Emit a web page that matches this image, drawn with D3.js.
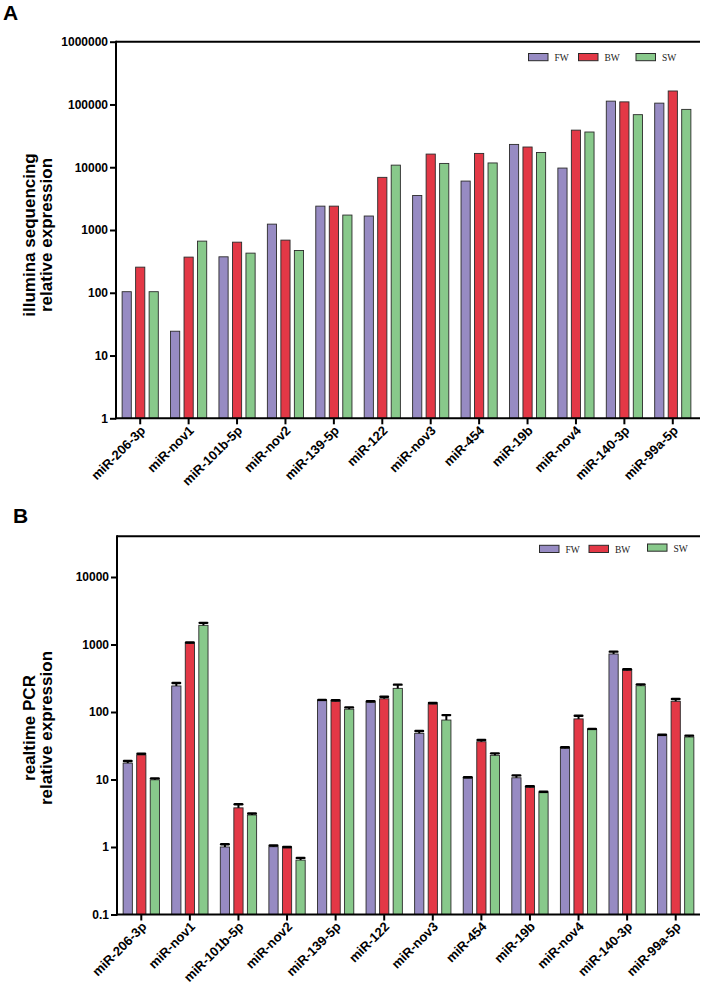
<!DOCTYPE html>
<html><head><meta charset="utf-8">
<script src="https://cdn.jsdelivr.net/npm/d3@7"></script>
<style>body{margin:0;background:#fff}svg{display:block}</style>
</head><body>
<svg id="c" width="710" height="992"></svg>
<script>
const categories = ["miR-206-3p","miR-nov1","miR-101b-5p","miR-nov2","miR-139-5p","miR-122","miR-nov3","miR-454","miR-19b","miR-nov4","miR-140-3p","miR-99a-5p"];
const seriesNames = ["FW","BW","SW"];
const colors = ["#978bc3","#e33846","#88c98b"];

// Panel A: illumina sequencing
const seqFW = [104, 24.4, 374, 1240, 2400, 1670, 3550, 6020, 23100, 9700, 113000, 105000];
const seqBW = [256, 370, 640, 690, 2400, 6900, 16200, 16600, 21000, 39000, 110000, 164000];
const seqSW = [104, 665, 428, 471, 1730, 10800, 11500, 11700, 17200, 36400, 68800, 83500];
const seqTicks = [1, 10, 100, 1000, 10000, 100000, 1000000];

// Panel B: realtime PCR (mean, upper error)
const pcrFW = [17.5, 243, 1.0, 1.01, 147, 139, 48.3, 10.5, 10.6, 29, 723, 44.6];
const pcrBW = [23.1, 1042, 3.8, 0.97, 144, 157, 131, 36.3, 7.66, 79, 414, 144];
const pcrSW = [9.9, 1924, 2.98, 0.64, 110, 224, 76, 22.8, 6.38, 54.7, 245, 42.6];
const pcrFWerr = [1.3, 26, 0.1, 0.04, 4, 5, 4, 0.3, 0.9, 1, 60, 1.5];
const pcrBWerr = [1.0, 30, 0.5, 0.03, 5, 11, 5, 2.3, 0.3, 9, 15, 12];
const pcrSWerr = [0.5, 170, 0.15, 0.05, 7, 30, 14, 1.6, 0.2, 1.5, 12, 2];
const pcrTicks = [0.1, 1, 10, 100, 1000, 10000];

const svg = d3.select("#c");
const font = "'Liberation Sans', Arial, sans-serif";

function panel(opt) {
  const g = svg.append("g");
  const x = d3.scaleBand().domain(categories).range([opt.x0, opt.x1]);
  const xs = d3.scaleBand().domain(seriesNames).range([0, x.bandwidth()]).paddingInner(0.32).paddingOuter(0.453);
  const y = d3.scaleLog().domain(opt.ydom).range(opt.yrange);
  const base = y(opt.ydom[0]);
  const top = y(opt.ytop);

  // bars
  opt.series.forEach((vals, si) => {
    g.selectAll(null).data(vals).enter().append("rect")
      .attr("x", (d, i) => x(categories[i]) + xs(seriesNames[si]))
      .attr("width", xs.bandwidth())
      .attr("y", d => y(d))
      .attr("height", d => base - y(d))
      .attr("fill", colors[si])
      .attr("stroke", "#2b2b2b").attr("stroke-width", 0.9);
    if (opt.errors) {
      const errs = opt.errors[si];
      const eg = g.selectAll(null).data(vals).enter().append("g");
      eg.append("line")
        .attr("x1", (d, i) => x(categories[i]) + xs(seriesNames[si]) + xs.bandwidth() / 2)
        .attr("x2", (d, i) => x(categories[i]) + xs(seriesNames[si]) + xs.bandwidth() / 2)
        .attr("y1", d => y(d))
        .attr("y2", (d, i) => y(d + errs[i]))
        .attr("stroke", "#000").attr("stroke-width", 2);
      eg.append("line")
        .attr("x1", (d, i) => x(categories[i]) + xs(seriesNames[si]) + xs.bandwidth() / 2 - 3.8)
        .attr("x2", (d, i) => x(categories[i]) + xs(seriesNames[si]) + xs.bandwidth() / 2 + 3.8)
        .attr("y1", (d, i) => y(d + errs[i]))
        .attr("y2", (d, i) => y(d + errs[i]))
        .attr("stroke", "#000").attr("stroke-width", 2.4).attr("stroke-linecap", "round");
    }
  });

  // y axis
  const yAxis = d3.axisLeft(y).tickValues(opt.ticks).tickSize(6).tickSizeOuter(0)
    .tickFormat(d => opt.fmt(d));
  const ya = g.append("g").attr("transform", `translate(${opt.x0},0)`).call(yAxis);
  ya.select(".domain").remove();
  ya.selectAll(".tick line").attr("stroke", "#000").attr("stroke-width", 2);
  ya.selectAll(".tick text").attr("font-family", font).attr("font-weight", "bold")
    .attr("font-size", 12).attr("fill", "#000").attr("x", -8);
  g.append("line").attr("x1", opt.x0).attr("x2", opt.x0).attr("y1", top - 1).attr("y2", base + 1)
    .attr("stroke", "#000").attr("stroke-width", 2);
  g.append("line").attr("x1", opt.x0).attr("x2", 700).attr("y1", top).attr("y2", top)
    .attr("stroke", "#000").attr("stroke-width", 2);

  // x axis
  const xAxis = d3.axisBottom(x).tickSize(6).tickSizeOuter(0);
  const xa = g.append("g").attr("transform", `translate(0,${base})`).call(xAxis);
  xa.select(".domain").remove();
  g.append("line").attr("x1", opt.x0 - 1).attr("x2", 700).attr("y1", base).attr("y2", base)
    .attr("stroke", "#000").attr("stroke-width", 2);
  xa.selectAll(".tick line").attr("stroke", "#000").attr("stroke-width", 2);
  xa.selectAll(".tick text").attr("font-family", font).attr("font-weight", "bold")
    .attr("font-size", 13).attr("fill", "#000")
    .attr("text-anchor", "end").attr("x", 0).attr("y", 0).attr("dy", 0)
    .attr("transform", "translate(6,13) rotate(-45)");

  // y title
  const ty = opt.titleY;
  g.append("text").attr("transform", `translate(35,${ty}) rotate(-90)`)
    .attr("text-anchor", "middle").attr("font-family", font).attr("font-weight", "bold")
    .attr("font-size", 17).text(opt.title1);
  g.append("text").attr("transform", `translate(52,${ty}) rotate(-90)`)
    .attr("text-anchor", "middle").attr("font-family", font).attr("font-weight", "bold")
    .attr("font-size", 17).text(opt.title2);

  // panel letter
  g.append("text").attr("x", opt.letterX).attr("y", opt.letterY).attr("font-family", font)
    .attr("font-weight", "bold").attr("font-size", 21).text(opt.letter);

  // legend
  seriesNames.forEach((s, i) => {
    const L = opt.legend[i];
    g.append("rect").attr("x", L[0]).attr("y", L[1]).attr("width", 19.5).attr("height", 7.2)
      .attr("fill", colors[i]).attr("stroke", "#2b2b2b").attr("stroke-width", 1);
    g.append("text").attr("x", L[0] + 26).attr("y", L[1] + 7.5)
      .attr("font-family", "'Liberation Serif', 'Times New Roman', serif")
      .attr("font-size", 9.5).attr("fill", "#222").text(s);
  });
}

panel({
  x0: 116, x1: 697,
  ydom: [1, 1000000], yrange: [418.3, 41.7], ytop: 1000000,
  ticks: seqTicks, fmt: d => d3.format("d")(d),
  series: [seqFW, seqBW, seqSW],
  title1: "illumina sequencing", title2: "relative expression", titleY: 235,
  letter: "A", letterX: 3, letterY: 20,
  legend: [[528.5, 53.5], [578.5, 53.5], [636, 53.5]]
});

panel({
  x0: 117, x1: 700,
  ydom: [0.1, 10000], yrange: [914.5, 577], ytop: 40000,
  ticks: pcrTicks, fmt: d => (d < 1 ? "0.1" : d3.format("d")(d)),
  series: [pcrFW, pcrBW, pcrSW],
  errors: [pcrFWerr, pcrBWerr, pcrSWerr],
  title1: "realtime PCR", title2: "relative expression", titleY: 728,
  letter: "B", letterX: 13, letterY: 522.5,
  legend: [[539.5, 545.3], [589, 545.3], [647.5, 544]]
});
</script>
</body></html>
